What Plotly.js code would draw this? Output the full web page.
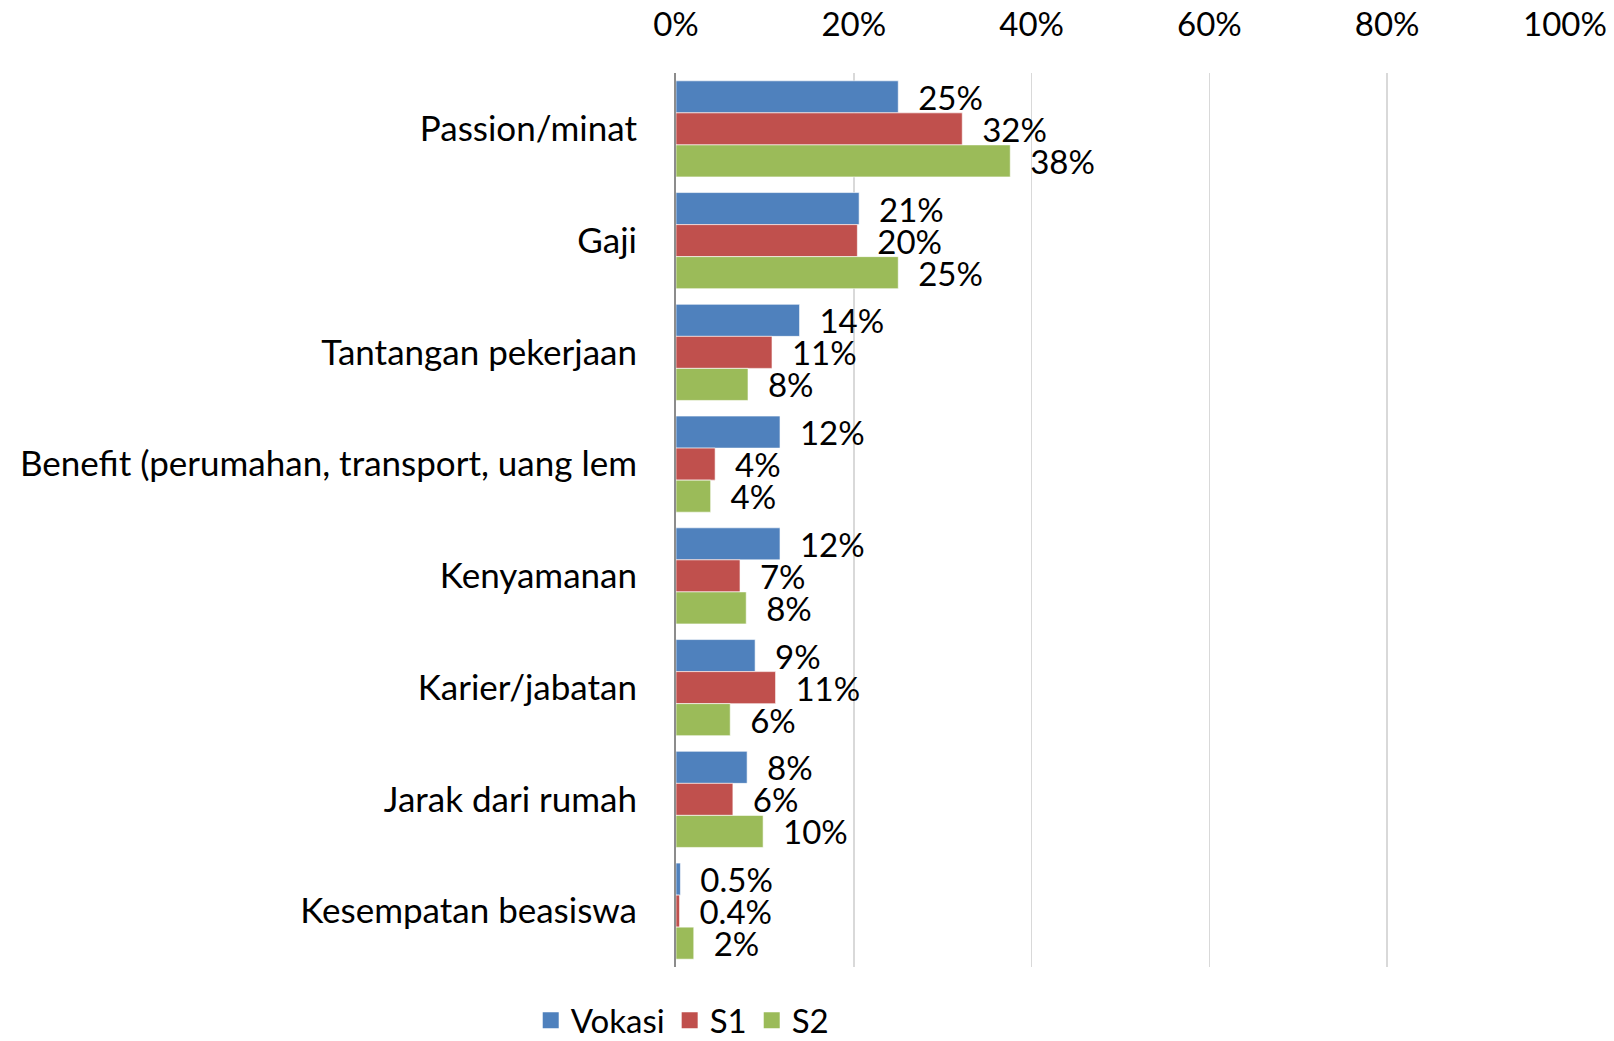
<!DOCTYPE html>
<html>
<head>
<meta charset="utf-8">
<script src="https://cdn.plot.ly/plotly-3.0.1.min.js"></script>
<style>html,body{margin:0;padding:0;background:#fff;}#chart{width:1614px;height:1041px;}</style>
</head>
<body>
<div id="chart"></div>
<script>
var categories = ["Passion/minat", "Gaji", "Tantangan pekerjaan", "Benefit (perumahan, transport, uang lem", "Kenyamanan", "Karier/jabatan", "Jarak dari rumah", "Kesempatan beasiswa"];
var seriesNames = ["Vokasi", "S1", "S2"];
var vokasi = [0.250, 0.206, 0.139, 0.117, 0.117, 0.089, 0.080, 0.005];
var s1 = [0.322, 0.204, 0.108, 0.044, 0.072, 0.112, 0.064, 0.004];
var s2 = [0.376, 0.250, 0.081, 0.039, 0.079, 0.061, 0.098, 0.020];
var vokasiLabels = ["25%", "21%", "14%", "12%", "12%", "9%", "8%", "0.5%"];
var s1Labels = ["32%", "20%", "11%", "4%", "7%", "11%", "6%", "0.4%"];
var s2Labels = ["38%", "25%", "8%", "4%", "8%", "6%", "10%", "2%"];
var tickVals = [0, 0.2, 0.4, 0.6, 0.8, 1.0];
var tickText = ["0%", "20%", "40%", "60%", "80%", "100%"];

var colors = ["#4F81BD", "#C0504D", "#9BBB59"];
var FONT = "Lato, 'Open Sans', sans-serif";
var values = [vokasi, s1, s2];
var labels = [vokasiLabels, s1Labels, s2Labels];

var traces = values.map(function (v, i) {
  return {
    type: "bar",
    orientation: "h",
    name: seriesNames[i],
    legendgroup: seriesNames[i],
    showlegend: false,
    y: categories,
    x: v,
    text: labels[i].map(function (t) { return "\u00A0\u00A0" + t; }),
    textposition: "outside",
    constraintext: "none",
    cliponaxis: false,
    textfont: {family: FONT, size: 33, color: "#000"},
    marker: {color: colors[i], line: {color: "rgba(255,255,255,0.6)", width: 1}},
    hoverinfo: "x+y+name"
  };
});

// legend entries (square swatches)
seriesNames.forEach(function (n, i) {
  traces.push({
    type: "scatter",
    mode: "markers",
    name: n,
    legendgroup: n,
    showlegend: true,
    x: [null],
    y: [null],
    marker: {symbol: "square", size: 20, color: colors[i]},
    hoverinfo: "skip"
  });
});

var layout = {
  width: 1614,
  height: 1041,
  margin: {l: 676, r: 49, t: 73, b: 74, pad: 0},
  paper_bgcolor: "#fff",
  plot_bgcolor: "#fff",
  barmode: "group",
  bargap: 0.14,
  bargroupgap: 0,
  font: {family: FONT, size: 33, color: "#000"},
  showlegend: true,
  legend: {
    orientation: "h",
    xref: "container",
    yref: "container",
    x: 0.423, xanchor: "center",
    y: 0.02, yanchor: "middle",
    font: {family: FONT, size: 33, color: "#000"},
    traceorder: "normal",
    itemsizing: "trace",
    itemwidth: 30,
    tracegroupgap: 0,
    itemclick: false
  },
  xaxis: {
    side: "top",
    range: [0, 1.0],
    tickvals: tickVals,
    ticktext: tickText,
    showgrid: true,
    gridcolor: "#D9D9D9",
    gridwidth: 1.5,
    zeroline: false,
    showline: false,
    ticks: "",
    ticklabelstandoff: 29,
    tickfont: {family: FONT, size: 33, color: "#000"}
  },
  yaxis: {
    type: "category",
    autorange: "reversed",
    range: [7.5, -0.5],
    showgrid: false,
    zeroline: false,
    showline: true,
    linecolor: "#8C8C8C",
    linewidth: 2,
    ticks: "",
    ticklabelstandoff: 30,
    tickfont: {family: FONT, size: 35, color: "#000"}
  }
};

Plotly.newPlot("chart", traces, layout, {displayModeBar: false, staticPlot: true});
</script>
</body>
</html>
